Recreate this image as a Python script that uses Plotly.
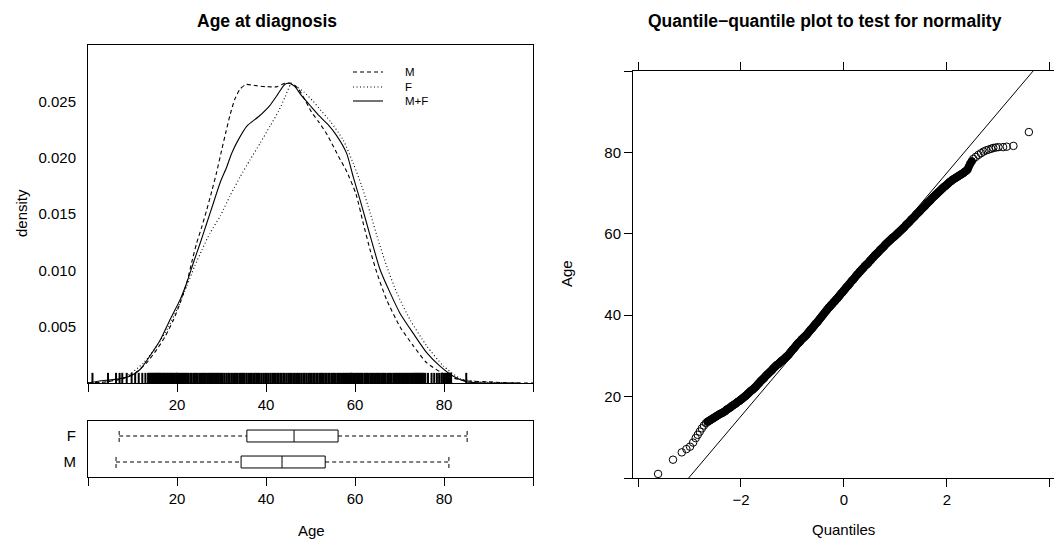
import plotly.graph_objects as go

# ---------------- data ----------------
# kernel density estimates (age, density)
age_m = [0, 4, 8, 11, 13.2, 15.5, 17.3, 19.2, 20.7, 22.2, 23.3, 24.4, 25.6, 26.7, 27.8, 28.9, 30.0, 31.0, 32.0, 33.0,
         34.2, 35.5, 37.5, 40.0, 42.5, 44.2, 45.8, 47.3, 48.8, 50.3, 51.8, 53.8, 56.3, 58.1, 60.2, 61.9, 63.4, 64.9, 67.1, 70.1,
         73.1, 76.1, 79.1, 81.5, 85, 90, 95, 100]
dens_m = [0.0000, 0.0001, 0.0004, 0.0010, 0.0018, 0.0030, 0.0041, 0.0056, 0.0071, 0.0089, 0.0107, 0.0124, 0.0139, 0.0154,
          0.0170, 0.0187, 0.0206, 0.0223, 0.0239, 0.0252, 0.0261, 0.0265, 0.0264, 0.0263, 0.0263, 0.0266, 0.0266, 0.0261,
          0.0251, 0.0240, 0.0232, 0.0220, 0.0201, 0.0188, 0.0168, 0.0141, 0.0118, 0.0098, 0.0074, 0.0050, 0.0033, 0.0018,
          0.0010, 0.0005, 0.0002, 0.0001, 0.0000, 0.0000]

age_f = [0, 4.2, 8.7, 12.5, 15.5, 18.1, 20.3, 22.2, 24.0, 25.6, 27.4, 29.7, 31.9, 34.2, 36.4, 38.7, 40.9, 42.8, 44.3, 45.6,
         46.9, 48.6, 50.6, 52.3, 54.5, 57.3, 59.6, 61.5, 63.4, 65.2, 67.1, 69.4, 72.4, 76.1, 79.9, 83.6, 88.1, 97]
dens_f = [0.0000, 0.0001, 0.0006, 0.0018, 0.0033, 0.0050, 0.0068, 0.0086, 0.0104, 0.0118, 0.0133, 0.0148, 0.0166, 0.0183,
          0.0198, 0.0213, 0.0228, 0.0241, 0.0254, 0.0265, 0.0263, 0.0258, 0.0250, 0.0242, 0.0232, 0.0216, 0.0195, 0.0175,
          0.0151, 0.0127, 0.0104, 0.0080, 0.0056, 0.0033, 0.0015, 0.0004, 0.0001, 0.0000]

age_all = [0, 3, 5.7, 9.4, 11.7, 13.9, 16.2, 18.4, 20.7, 22.2, 23.7, 25.2, 26.7, 28.2, 29.7, 31.2, 32.3, 33.8, 35.7, 38.5,
           40.8, 42.6, 44.2, 45.2, 46.5, 48.0, 50.2, 52.0, 53.8, 55.8, 58.1, 59.6, 61.1, 62.6, 64.1, 65.6, 67.9, 70.1, 73.1,
           76.1, 79.1, 82.1, 85.1, 90, 97]
dens_all = [0.0000, 0.0002, 0.0003, 0.0006, 0.0012, 0.0024, 0.0038, 0.0056, 0.0074, 0.0089, 0.0107, 0.0124, 0.0142,
            0.0160, 0.0178, 0.0192, 0.0204, 0.0216, 0.0228, 0.0237, 0.0246, 0.0256, 0.0265, 0.0266, 0.0263, 0.0255,
            0.0245, 0.0237, 0.0230, 0.0220, 0.0204, 0.0183, 0.0163, 0.0142, 0.0121, 0.0101, 0.0080, 0.0062, 0.0044,
            0.0027, 0.0015, 0.0006, 0.0001, 0.0000, 0.0000]

density_labels = ["M", "F", "M+F"]

# boxplot statistics by sex
box_groups = ["M", "F"]
box_lower = [6.3, 7.0]
box_q1 = [34.4, 35.7]
box_median = [43.6, 46.3]
box_q3 = [53.3, 56.2]
box_upper = [81.1, 85.2]

# normal quantile-quantile points (theoretical quantile, sample age)
qq_theoretical = [
    -3.61, -3.32, -3.15, -3.06, -2.99, -2.93, -2.88, -2.84, -2.80, -2.76, -2.72, -2.68,
    -2.650, -2.625, -2.600, -2.575, -2.550, -2.525, -2.500, -2.475,
    -2.450, -2.425, -2.400, -2.375, -2.350, -2.325, -2.300, -2.275,
    -2.250, -2.225, -2.200, -2.175, -2.150, -2.125, -2.100, -2.075,
    -2.050, -2.025, -2.000, -1.975, -1.950, -1.925, -1.900, -1.875,
    -1.850, -1.825, -1.800, -1.775, -1.750, -1.725, -1.700, -1.675,
    -1.650, -1.625, -1.600, -1.575, -1.550, -1.525, -1.500, -1.475,
    -1.450, -1.425, -1.400, -1.375, -1.350, -1.325, -1.300, -1.275,
    -1.250, -1.225, -1.200, -1.175, -1.150, -1.125, -1.100, -1.075,
    -1.050, -1.025, -1.000, -0.975, -0.950, -0.925, -0.900, -0.875,
    -0.850, -0.825, -0.800, -0.775, -0.750, -0.725, -0.700, -0.675,
    -0.650, -0.625, -0.600, -0.575, -0.550, -0.525, -0.500, -0.475,
    -0.450, -0.425, -0.400, -0.375, -0.350, -0.325, -0.300, -0.275,
    -0.250, -0.225, -0.200, -0.175, -0.150, -0.125, -0.100, -0.075,
    -0.050, -0.025, 0.000, 0.025, 0.050, 0.075, 0.100, 0.125,
    0.150, 0.175, 0.200, 0.225, 0.250, 0.275, 0.300, 0.325,
    0.350, 0.375, 0.400, 0.425, 0.450, 0.475, 0.500, 0.525,
    0.550, 0.575, 0.600, 0.625, 0.650, 0.675, 0.700, 0.725,
    0.750, 0.775, 0.800, 0.825, 0.850, 0.875, 0.900, 0.925,
    0.950, 0.975, 1.000, 1.025, 1.050, 1.075, 1.100, 1.125,
    1.150, 1.175, 1.200, 1.225, 1.250, 1.275, 1.300, 1.325,
    1.350, 1.375, 1.400, 1.425, 1.450, 1.475, 1.500, 1.525,
    1.550, 1.575, 1.600, 1.625, 1.650, 1.675, 1.700, 1.725,
    1.750, 1.775, 1.800, 1.825, 1.850, 1.875, 1.900, 1.925,
    1.950, 1.975, 2.000, 2.025, 2.050, 2.075, 2.100, 2.125,
    2.150, 2.175, 2.200, 2.225, 2.250, 2.275, 2.300, 2.325,
    2.350, 2.375,
    2.40, 2.42, 2.45, 2.48, 2.51, 2.56, 2.61, 2.66, 2.71, 2.76, 2.81, 2.86, 2.90, 2.95, 3.00, 3.09,
    3.16, 3.29, 3.59]
qq_age = [
    1.0, 4.5, 6.3, 7.1, 7.7, 8.7, 9.8, 10.6, 11.4, 12.2, 12.9, 13.5,
    13.8, 14.0, 14.2, 14.4, 14.6, 14.8, 15.0, 15.2,
    15.4, 15.6, 15.8, 15.9, 16.1, 16.3, 16.5, 16.8,
    17.0, 17.2, 17.4, 17.7, 17.9, 18.1, 18.3, 18.6,
    18.8, 19.0, 19.3, 19.5, 19.8, 20.0, 20.3, 20.6,
    20.9, 21.2, 21.5, 21.7, 22.0, 22.3, 22.6, 23.0,
    23.3, 23.7, 24.0, 24.3, 24.6, 25.0, 25.3, 25.6,
    25.9, 26.2, 26.5, 26.9, 27.2, 27.5, 27.8, 28.0,
    28.3, 28.6, 28.9, 29.1, 29.4, 29.7, 30.0, 30.3,
    30.7, 31.1, 31.5, 31.8, 32.2, 32.6, 33.0, 33.3,
    33.6, 34.0, 34.3, 34.6, 34.9, 35.2, 35.6, 36.0,
    36.4, 36.7, 37.1, 37.5, 37.9, 38.2, 38.6, 39.0,
    39.4, 39.8, 40.2, 40.6, 41.0, 41.4, 41.8, 42.1,
    42.5, 42.8, 43.2, 43.5, 43.9, 44.2, 44.6, 45.0,
    45.4, 45.7, 46.1, 46.5, 46.9, 47.2, 47.6, 48.0,
    48.4, 48.7, 49.1, 49.5, 49.9, 50.2, 50.6, 50.9,
    51.3, 51.6, 52.0, 52.3, 52.6, 52.9, 53.3, 53.6,
    54.0, 54.3, 54.7, 55.0, 55.3, 55.6, 56.0, 56.3,
    56.6, 56.9, 57.3, 57.6, 57.9, 58.2, 58.5, 58.8,
    59.1, 59.3, 59.6, 59.9, 60.2, 60.5, 60.8, 61.1,
    61.4, 61.7, 62.1, 62.4, 62.7, 63.0, 63.4, 63.7,
    64.0, 64.3, 64.7, 65.0, 65.3, 65.6, 66.0, 66.3,
    66.6, 66.9, 67.3, 67.6, 67.9, 68.2, 68.6, 68.9,
    69.2, 69.5, 69.8, 70.1, 70.4, 70.7, 71.0, 71.3,
    71.6, 71.8, 72.1, 72.4, 72.7, 72.9, 73.2, 73.4,
    73.6, 73.8, 74.0, 74.2, 74.4, 74.6, 74.8, 75.0,
    75.3, 75.5,
    75.8, 76.4, 77.2, 77.8, 78.4, 78.9, 79.4, 79.8, 80.2, 80.5, 80.7, 80.9, 81.1, 81.2, 81.3, 81.3,
    81.4, 81.6, 85.0]

# reference line of the QQ plot (intercept = mean, slope = sd)
qq_line_intercept = 45.1
qq_line_slope = 14.95

# tick labels
age_ticks = [0, 20, 40, 60, 80, 100]
age_ticktext = ["", "20", "40", "60", "80", ""]
dens_ticks = [0.005, 0.010, 0.015, 0.020, 0.025]
dens_ticktext = ["0.005", "0.010", "0.015", "0.020", "0.025"]
qq_xticks = [-4, -2, 0, 2, 4]
qq_xticktext = ["", "\u22122", "0", "2", ""]
qq_yticks = [0, 20, 40, 60, 80, 100]
qq_yticktext = ["", "20", "40", "60", "80", ""]

# ---------------- figure ----------------
W, H = 1054, 543
FONT = "Liberation Sans, Arial, Helvetica, sans-serif"


def fx(p):
    return p / W


def fy(p):
    return 1 - p / H


DASH = {"M": "4px,3px", "F": "1px,2.5px", "M+F": "solid"}

fig = go.Figure()

for lab, xs, ys in zip(density_labels, [age_m, age_f, age_all], [dens_m, dens_f, dens_all]):
    fig.add_trace(go.Scatter(x=xs, y=ys, mode="lines", name=lab, showlegend=False,
                             line=dict(color="black", width=1.1, dash=DASH[lab], shape="spline", smoothing=0.6),
                             xaxis="x", yaxis="y", hoverinfo="skip"))

# rug of observed ages
rug_top = 0.0009
rx, ry = [], []
for a in qq_age:
    rx += [a, a, None]
    ry += [0, rug_top, None]
fig.add_trace(go.Scatter(x=rx, y=ry, mode="lines", line=dict(color="black", width=2), showlegend=False,
                         xaxis="x", yaxis="y", hoverinfo="skip"))

# boxplots
half = 0.23
for i, g in enumerate(box_groups):
    yc = i + 1
    lo, q1, md, q3, up = box_lower[i], box_q1[i], box_median[i], box_q3[i], box_upper[i]
    fig.add_trace(go.Scatter(x=[q1, q3, q3, q1, q1], y=[yc - half, yc - half, yc + half, yc + half, yc - half],
                             mode="lines", line=dict(color="black", width=1), showlegend=False,
                             xaxis="x2", yaxis="y2", hoverinfo="skip"))
    fig.add_trace(go.Scatter(x=[md, md], y=[yc - half, yc + half], mode="lines",
                             line=dict(color="black", width=1), showlegend=False,
                             xaxis="x2", yaxis="y2", hoverinfo="skip"))
    fig.add_trace(go.Scatter(x=[lo, q1, None, q3, up, None, lo, lo, None, up, up],
                             y=[yc, yc, None, yc, yc, None, yc - half, yc + half, None, yc - half, yc + half],
                             mode="lines", line=dict(color="black", width=1, dash="4px,3px"), showlegend=False,
                             xaxis="x2", yaxis="y2", hoverinfo="skip"))

# QQ plot: where points are packed (overplotted) the open circles merge into a solid band
n = len(qq_theoretical)
fills = []
for i in range(n):
    gp = qq_theoretical[i] - qq_theoretical[i - 1] if i > 0 else 1.0
    gn = qq_theoretical[i + 1] - qq_theoretical[i] if i < n - 1 else 1.0
    fills.append("black" if (gp <= 0.031 and gn <= 0.031) else "rgba(255,255,255,0)")
fig.add_trace(go.Scatter(x=qq_theoretical, y=qq_age, mode="markers", showlegend=False,
                         marker=dict(symbol="circle", size=7.5, color=fills, line=dict(width=1, color="black")),
                         xaxis="x3", yaxis="y3", hoverinfo="skip"))
lx = [-4.2, 4.2]
fig.add_trace(go.Scatter(x=lx, y=[qq_line_intercept + qq_line_slope * v for v in lx], mode="lines",
                         line=dict(color="black", width=1), showlegend=False,
                         xaxis="x3", yaxis="y3", hoverinfo="skip"))

tickfont = dict(family=FONT, size=15, color="black")
common = dict(showgrid=False, zeroline=False, showline=True, linecolor="black", linewidth=1,
              tickcolor="black", tickwidth=1, tickfont=tickfont)

fig.update_layout(
    width=W, height=H, margin=dict(l=0, r=0, t=0, b=0),
    paper_bgcolor="white", plot_bgcolor="white",
    font=dict(family=FONT, color="black"),
    xaxis=dict(domain=[fx(88), fx(533)], range=[0, 100], anchor="y", mirror=True, ticks="outside", ticklen=8,
               tickvals=age_ticks, ticktext=age_ticktext, **common),
    yaxis=dict(domain=[fy(383), fy(45)], range=[0, 0.030], anchor="x", mirror=True, ticks="",
               tickvals=dens_ticks, ticktext=dens_ticktext, ticklabelstandoff=8, **common),
    xaxis2=dict(domain=[fx(88), fx(533)], range=[0, 100], anchor="y2", mirror=True, ticks="outside", ticklen=8,
                tickvals=age_ticks, ticktext=age_ticktext, **common),
    yaxis2=dict(domain=[fy(477), fy(421)], range=[0.423, 2.577], anchor="x2", mirror=True, ticks="",
                tickvals=[1, 2], ticktext=box_groups, ticklabelstandoff=8, **common),
    xaxis3=dict(domain=[fx(633), 1.0], range=[-4.097, 4.078], anchor="y3", mirror="ticks", ticks="outside",
                ticklen=8, tickvals=qq_xticks, ticktext=qq_xticktext, **common),
    yaxis3=dict(domain=[fy(478), fy(71)], range=[0, 100], anchor="x3", mirror=False, ticks="outside",
                ticklen=8, tickvals=qq_yticks, ticktext=qq_yticktext, **common),
)

ann = []
ann.append(dict(text="<b>Age at diagnosis</b>", x=fx(267), y=fy(21), font=dict(size=17.5)))
ann.append(dict(text="<b>Quantile\u2212quantile plot to test for normality</b>", x=fx(825), y=fy(21),
                font=dict(size=17.5)))
ann.append(dict(text="density", x=fx(21), y=fy(213), textangle=-90, font=dict(size=15)))
ann.append(dict(text="Age", x=fx(311), y=fy(530), font=dict(size=15)))
ann.append(dict(text="Quantiles", x=fx(843), y=fy(529), font=dict(size=15)))
ann.append(dict(text="Age", x=fx(566), y=fy(274), textangle=-90, font=dict(size=15)))

shapes = []
for lab, ly in zip(density_labels, [72, 87, 101]):
    shapes.append(dict(type="line", xref="paper", yref="paper", x0=fx(353), x1=fx(383), y0=fy(ly), y1=fy(ly),
                       line=dict(color="black", width=1.1, dash=DASH[lab])))
    ann.append(dict(text=lab, x=fx(403), y=fy(ly), xanchor="left", font=dict(size=11.5)))

for a in ann:
    a.setdefault("xanchor", "center")
    a.update(xref="paper", yref="paper", yanchor="middle", showarrow=False)
    a["font"].update(family=FONT, color="black")

fig.update_layout(annotations=ann, shapes=shapes)

fig.write_html("out.html", config={"displayModeBar": False},
               post_script="document.body.style.margin='0px';document.body.style.overflow='hidden';")
